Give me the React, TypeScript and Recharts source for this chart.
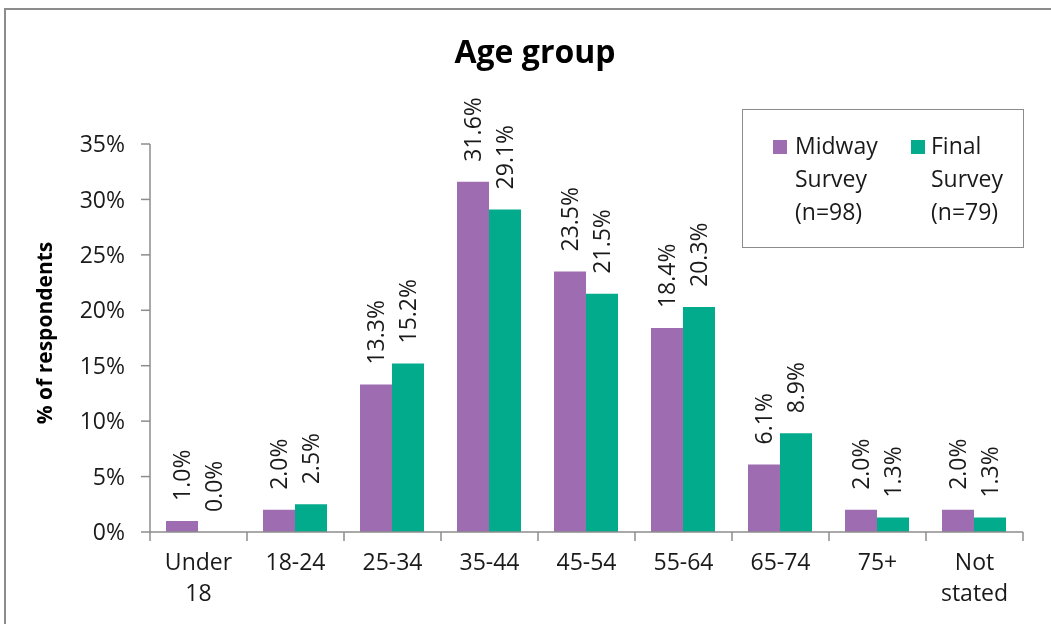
import React from 'react';
import { BarChart, Bar, XAxis, YAxis, Legend, Rectangle } from 'recharts';

// Age group shares (% of respondents) for the two survey waves
const categories = ['Under 18', '18-24', '25-34', '35-44', '45-54', '55-64', '65-74', '75+', 'Not stated'];
const midwayValues = [1.0, 2.0, 13.3, 31.6, 23.5, 18.4, 6.1, 2.0, 2.0];
const finalValues = [0.0, 2.5, 15.2, 29.1, 21.5, 20.3, 8.9, 1.3, 1.3];
const yTicks = [0, 5, 10, 15, 20, 25, 30, 35];

const MIDWAY_NAME = 'Midway Survey (n=98)';
const FINAL_NAME = 'Final Survey (n=79)';
const PURPLE = '#9E6CB0';
const TEAL = '#03AB8D';
const AXIS_GREY = '#8c8c8c';
const FONT = '"Open Sans", "Noto Sans", sans-serif';

const WIDTH = 1035;
const HEIGHT = 608;
const MARGIN = { top: 136, right: 20, bottom: 24, left: 0 };
const Y_AXIS_W = 142;
const X_AXIS_H = 60;
const PLOT_W = WIDTH - MARGIN.left - MARGIN.right - Y_AXIS_W;
const BAND = PLOT_W / categories.length;

const data = categories.map((c, i) => ({
  group: c,
  midway: midwayValues[i],
  final: finalValues[i],
}));

// category label split over lines, plus tick marks on the band edges
const CategoryTick = (props: any) => {
  const { x, y, payload, index } = props;
  const lines = String(payload.value).split(' ');
  const left = x - BAND / 2;
  return (
    <g>
      <line x1={left} x2={left} y1={y} y2={y + 9} stroke={AXIS_GREY} strokeWidth={1.5} />
      {index === categories.length - 1 && (
        <line x1={left + BAND} x2={left + BAND} y1={y} y2={y + 9} stroke={AXIS_GREY} strokeWidth={1.5} />
      )}
      <text x={x} y={y + 38} textAnchor="middle" fontSize={23} fontFamily={FONT} fill="#1a1a1a">
        {lines.map((l, i) => (
          <tspan key={i} x={x} dy={i === 0 ? 0 : 31}>{l}</tspan>
        ))}
      </text>
    </g>
  );
};

// bar rectangle with its value written vertically above it (also for 0%)
const makeLabelledBar = (key: 'midway' | 'final') => (props: any) => {
  const { x, y, width, height, fill, payload } = props;
  const value = payload[key];
  const cx = x + width / 2;
  const ty = y - 20;
  return (
    <g>
      {height > 0 && <Rectangle x={x} y={y} width={width} height={height} fill={fill} />}
      <text
        x={cx}
        y={ty}
        dy="0.36em"
        transform={`rotate(-90 ${cx} ${ty})`}
        textAnchor="start"
        fontSize={23}
        fontFamily={FONT}
        fill="#1a1a1a"
      >
        {`${Number(value).toFixed(1)}%`}
      </text>
    </g>
  );
};

const LegendBox = () => {
  const items = [
    { name: MIDWAY_NAME, color: PURPLE, sq: 30, tx: 52 },
    { name: FINAL_NAME, color: TEAL, sq: 168, tx: 188 },
  ];
  return (
    <div
      style={{
        position: 'relative',
        width: 282,
        height: 139,
        boxSizing: 'border-box',
        border: `1.5px solid ${AXIS_GREY}`,
        background: '#fff',
        fontFamily: FONT,
        fontSize: 23,
        color: '#1a1a1a',
        lineHeight: '33px',
      }}
    >
      {items.map((it) => (
        <React.Fragment key={it.name}>
          <div style={{ position: 'absolute', left: it.sq, top: 30, width: 14, height: 14, background: it.color }} />
          <div style={{ position: 'absolute', left: it.tx, top: 19, textAlign: 'left' }}>
            {it.name.split(' ').map((w) => (
              <div key={w}>{w}</div>
            ))}
          </div>
        </React.Fragment>
      ))}
    </div>
  );
};

export default function App() {
  return (
    <div style={{ position: 'relative', width: WIDTH, height: HEIGHT, fontFamily: FONT }}>
      {/* chart frame: only its top and left edges fall inside the page */}
      <div
        style={{
          position: 'fixed',
          left: 4,
          top: 8,
          width: 1200,
          height: 800,
          borderTop: `2px solid ${AXIS_GREY}`,
          borderLeft: `2px solid ${AXIS_GREY}`,
          pointerEvents: 'none',
        }}
      />
      <div
        style={{
          position: 'absolute',
          left: 0,
          top: 21,
          width: 1054,
          textAlign: 'center',
          fontSize: 32,
          fontWeight: 700,
          color: '#000',
        }}
      >
        Age group
      </div>
      <BarChart
        width={WIDTH}
        height={HEIGHT}
        data={data}
        margin={MARGIN}
        barCategoryGap="16.5%"
        barGap={0}
      >
        <XAxis
          dataKey="group"
          height={X_AXIS_H}
          interval={0}
          tickSize={0}
          tickMargin={0}
          tickLine={false}
          axisLine={{ stroke: AXIS_GREY, strokeWidth: 1.5 }}
          tick={<CategoryTick />}
        />
        <YAxis
          width={Y_AXIS_W}
          domain={[0, 35]}
          ticks={yTicks}
          interval={0}
          tickFormatter={(v: number) => `${v}%`}
          tickSize={9}
          tickMargin={16}
          axisLine={{ stroke: AXIS_GREY, strokeWidth: 1.5 }}
          tickLine={{ stroke: AXIS_GREY, strokeWidth: 1.5 }}
          tick={{ fontSize: 23, fontFamily: FONT, fill: '#1a1a1a' }}
          label={{
            value: '% of respondents',
            angle: -90,
            position: 'insideLeft',
            offset: 37,
            dy: -5,
            style: { textAnchor: 'middle', fontSize: 21, fontWeight: 700, fontFamily: FONT, fill: '#000' },
          }}
        />
        <Legend
          layout="horizontal"
          verticalAlign="middle"
          align="center"
          wrapperStyle={{ left: 734, top: 101, width: 282 }}
          content={() => <LegendBox />}
        />
        <Bar dataKey="midway" name={MIDWAY_NAME} fill={PURPLE} isAnimationActive={false} shape={makeLabelledBar('midway')} />
        <Bar dataKey="final" name={FINAL_NAME} fill={TEAL} isAnimationActive={false} shape={makeLabelledBar('final')} />
      </BarChart>
    </div>
  );
}
